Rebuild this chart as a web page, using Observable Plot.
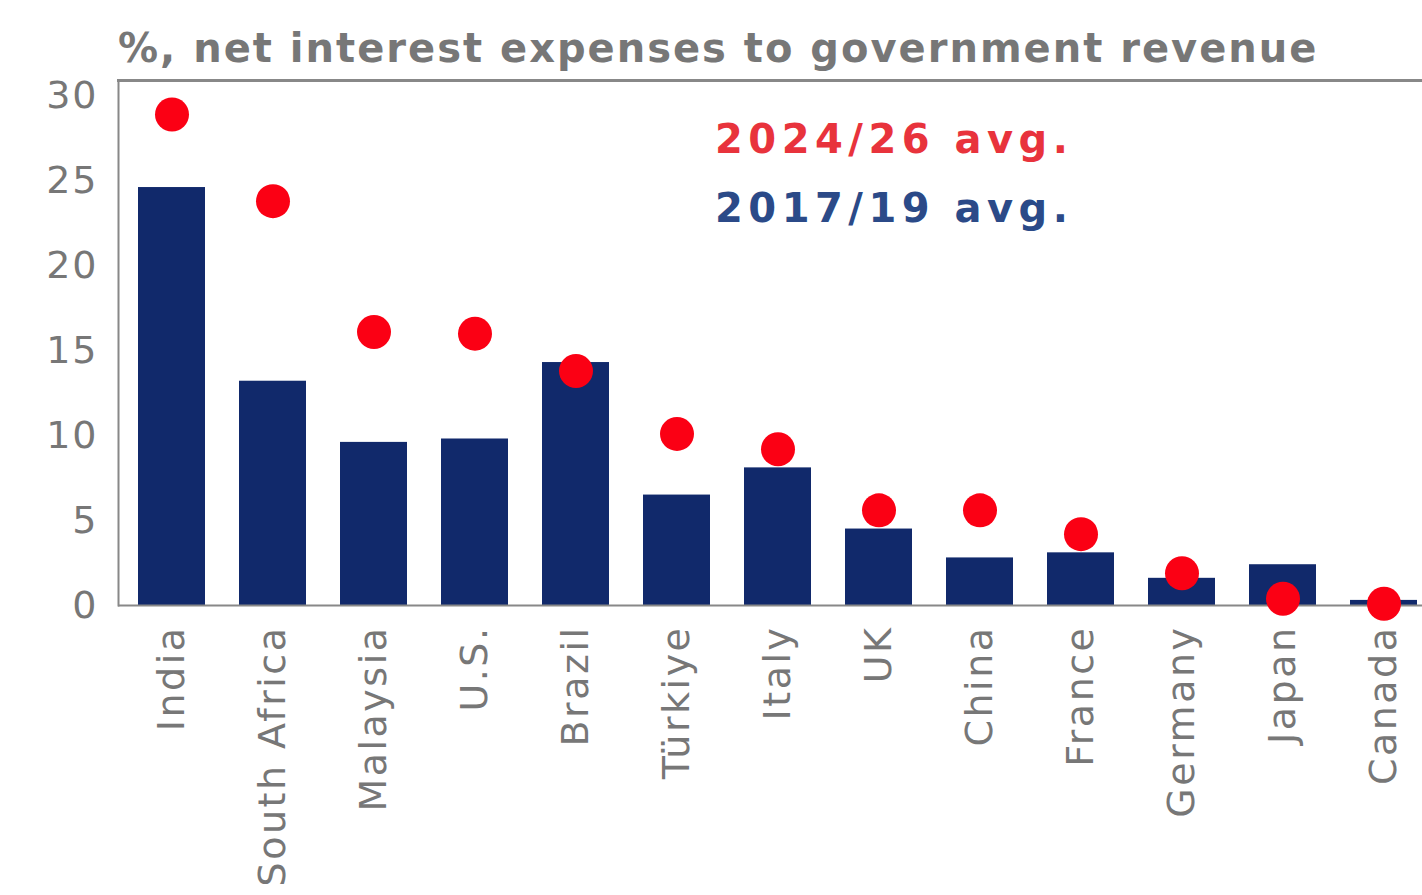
<!DOCTYPE html>
<html>
<head>
<meta charset="utf-8">
<script src="https://cdn.jsdelivr.net/npm/d3@7"></script>
<script src="https://cdn.jsdelivr.net/npm/@observablehq/plot@0.6"></script>
<style>
  html, body { margin: 0; padding: 0; background: #fff; }
  #wrap { position: relative; width: 1422px; height: 895px; overflow: hidden; font-family: "DejaVu Sans", sans-serif; }
  #wrap svg { position: absolute; left: 0; top: 0; }
  .title { position: absolute; left: 118px; top: 28px; font-size: 40px; font-weight: bold; color: #777; line-height: 1; white-space: nowrap; letter-spacing: 2px; }
  .leg { position: absolute; left: 715px; font-size: 40px; font-weight: bold; line-height: 1; white-space: nowrap; letter-spacing: 5.5px; }
  .leg.red { top: 119px; color: #e8333c; }
  .leg.navy { top: 188px; color: #2b4a88; }
  g[aria-label="x-axis tick label"] text { font-size: 38px; letter-spacing: 2.5px; fill: #777; }
  g[aria-label="y-axis tick label"] text { font-size: 38px; letter-spacing: 2px; fill: #777; }
</style>
</head>
<body>
<div id="wrap">
  <div class="title">%, net interest expenses to government revenue</div>
  <div class="leg red">2024/26 avg.</div>
  <div class="leg navy">2017/19 avg.</div>
</div>
<script>
const countries = ["India","South Africa","Malaysia","U.S.","Brazil","Türkiye","Italy","UK","China","France","Germany","Japan","Canada"];
const avg2017_19 = [24.6,13.2,9.6,9.8,14.3,6.5,8.1,4.5,2.8,3.1,1.6,2.4,0.3];
const avg2024_26 = [28.9,23.8,16.1,16.0,13.8,10.1,9.2,5.6,5.6,4.2,1.9,0.4,0.1];
const yTicks = [0,5,10,15,20,25,30];

const data = countries.map((c, i) => ({country: c, a: avg2017_19[i], b: avg2024_26[i]}));

const chart = Plot.plot({
  width: 1422,
  height: 895,
  marginTop: 80,
  marginBottom: 290,
  marginLeft: 118,
  marginRight: 0,
  style: {fontFamily: "DejaVu Sans, sans-serif", background: "transparent", overflow: "visible"},
  x: {domain: countries, range: [119, 1436], paddingInner: 0.34, paddingOuter: 0.17},
  y: {domain: [0, 30.9]},
  marks: [
    Plot.barY(data, {x: "country", y: "a", fill: "#11296b"}),
    Plot.frame({anchor: "top", stroke: "#888", strokeWidth: 3}),
    Plot.frame({anchor: "left", stroke: "#888", strokeWidth: 2}),
    Plot.ruleY([0], {stroke: "#888", strokeWidth: 2}),
    Plot.dot(data, {x: "country", y: "b", r: 17, fill: "#fb0014"}),
    Plot.axisY({ticks: yTicks, tickSize: 0, tickPadding: 20, label: null}),
    Plot.axisX({tickSize: 0, tickPadding: 20, tickRotate: -90, label: null})
  ]
});
document.getElementById("wrap").prepend(chart);
</script>
</body>
</html>
